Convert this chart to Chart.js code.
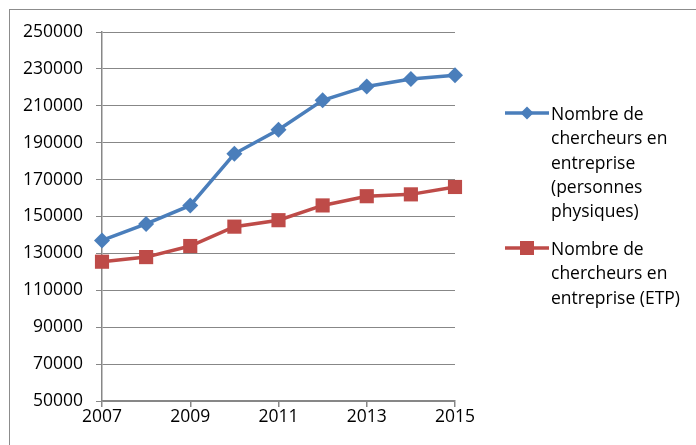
<!DOCTYPE html>
<html>
<head>
<meta charset="utf-8">
<script src="https://cdn.jsdelivr.net/npm/chart.js@4/dist/chart.umd.min.js"></script>
<style>
  html, body { margin: 0; padding: 0; background: #fff; overflow: hidden; }
  #wrap { position: relative; width: 696px; height: 445px; }
  #frame { position: absolute; left: 9px; top: 9px; width: 800px; height: 800px;
           border: 1px solid #8c8c8c; pointer-events: none; }
</style>
</head>
<body>
<div id="wrap">
  <canvas id="lineChart" width="696" height="445"></canvas>
  <div id="frame"></div>
</div>
<script>
var years = [2007, 2008, 2009, 2010, 2011, 2012, 2013, 2014, 2015];
var physiques = [137000, 146000, 156000, 184000, 197000, 213000, 220500, 224500, 226500];
var etp = [125500, 128000, 134000, 144500, 148000, 156000, 161000, 162000, 166000];
var labelPhysiques = ["Nombre de", "chercheurs en", "entreprise", "(personnes", "physiques)"];
var labelEtp = ["Nombre de", "chercheurs en", "entreprise (ETP)"];

var blue = "#4a7ebb";
var red = "#be4b48";
var grey = "#878787";
var font = "'Open Sans'";
var fontSize = 17.5;

function toPoints(values) {
  return values.map(function (v, i) { return { x: years[i], y: v }; });
}

// legend drawn by hand so the labels can wrap like the original
var sideLegend = {
  id: "sideLegend",
  afterDraw: function (chart) {
    var ctx = chart.ctx;
    var tops = [113, 248];
    ctx.save();
    chart.data.datasets.forEach(function (ds, i) {
      var y = tops[i];
      ctx.strokeStyle = ds.borderColor;
      ctx.lineWidth = 3.5;
      ctx.beginPath();
      ctx.moveTo(505, y);
      ctx.lineTo(549, y);
      ctx.stroke();
      ctx.fillStyle = ds.backgroundColor;
      ctx.beginPath();
      if (ds.pointStyle === "rectRot") {
        ctx.moveTo(527, y - 6.5);
        ctx.lineTo(533.5, y);
        ctx.lineTo(527, y + 6.5);
        ctx.lineTo(520.5, y);
        ctx.closePath();
      } else {
        ctx.rect(520, y - 7, 14, 14);
      }
      ctx.fill();
      ctx.fillStyle = "#000";
      ctx.font = fontSize + "px " + font;
      ctx.textBaseline = "middle";
      ctx.textAlign = "left";
      ds.legendLines.forEach(function (line, k) {
        ctx.fillText(line, 551, y + 2 + k * 24.3);
      });
    });
    ctx.restore();
  }
};

new Chart("lineChart", {
  type: "line",
  data: {
    datasets: [{
      label: labelPhysiques.join(" "),
      legendLines: labelPhysiques,
      data: toPoints(physiques),
      borderColor: blue,
      backgroundColor: blue,
      borderWidth: 3.5,
      pointStyle: "rectRot",
      pointRadius: 8,
      pointHoverRadius: 8,
      pointBorderWidth: 0,
      tension: 0,
      clip: false
    }, {
      label: labelEtp.join(" "),
      legendLines: labelEtp,
      data: toPoints(etp),
      borderColor: red,
      backgroundColor: red,
      borderWidth: 3.5,
      pointStyle: "rect",
      pointRadius: 10,
      pointHoverRadius: 10,
      pointBorderWidth: 0,
      tension: 0,
      clip: false
    }]
  },
  options: {
    responsive: false,
    animation: false,
    events: [],
    layout: { padding: { top: 32, right: 241, bottom: 0, left: 0 } },
    plugins: {
      legend: { display: false },
      tooltip: { enabled: false }
    },
    scales: {
      x: {
        type: "linear",
        min: 2007,
        max: 2015,
        afterFit: function (scale) { scale.height = 44; },
        ticks: {
          stepSize: 2,
          padding: 0,
          color: "#000",
          font: { family: font, size: fontSize },
          callback: function (v) { return String(v); }
        },
        grid: { drawOnChartArea: false, drawTicks: true, tickLength: 6, color: grey, lineWidth: 1.5 },
        border: { color: grey, width: 1.5 }
      },
      y: {
        min: 50000,
        max: 250000,
        afterFit: function (scale) { scale.width = 102; },
        ticks: {
          stepSize: 20000,
          padding: 13,
          color: "#000",
          font: { family: font, size: fontSize },
          callback: function (v) { return String(v); }
        },
        grid: { color: grey, lineWidth: 1, tickLength: 6 },
        border: { color: grey, width: 1.5 }
      }
    }
  },
  plugins: [sideLegend]
});
</script>
</body>
</html>
